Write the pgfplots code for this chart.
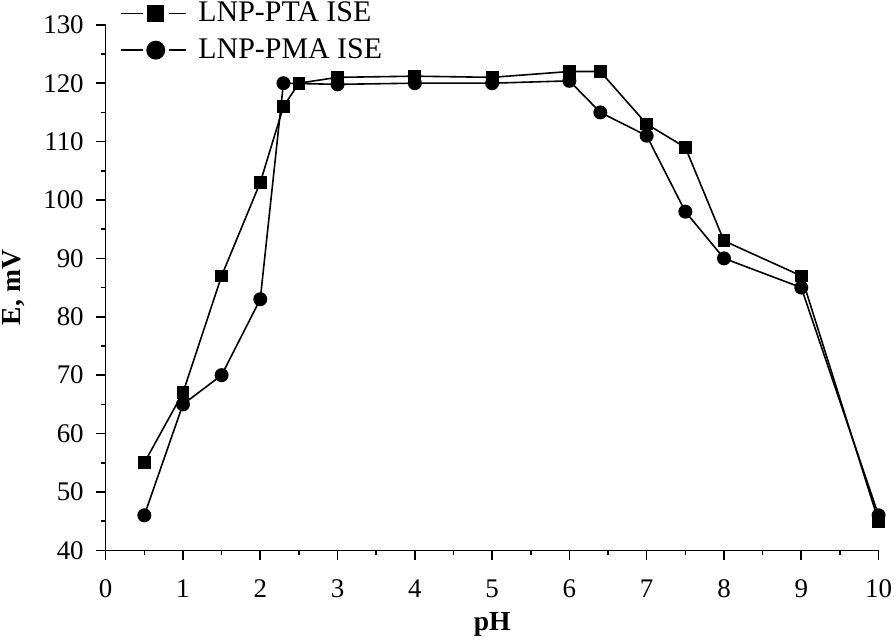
\documentclass[border=0pt]{standalone}
\usepackage{pgfplots}
\pgfplotsset{compat=1.18}
\usepackage{fontspec}
\setmainfont{Liberation Serif}
\begin{document}
\begin{tikzpicture}[x=1pt,y=1pt]
\begin{axis}[
  scale only axis,
  width=387.5pt, height=263.5pt,
  xmin=0, xmax=10, ymin=40, ymax=130,
  axis lines=left, axis line style={-, line width=0.8pt},
  xtick={0,1,...,10}, ytick={40,50,...,130},
  minor x tick num=1, minor y tick num=1,
  tick align=outside,
  major tick length=5pt, minor tick length=2.5pt,
  tick style={line width=0.8pt, black},
  /pgf/number format/assume math mode=true,
  ticklabel style={font=\fontsize{13.5}{14}\selectfont},
  yticklabel style={xshift=-2.5pt},
  xticklabel style={inner sep=1pt, yshift=-8.5pt},
  xlabel={\textbf{pH}}, ylabel={\textbf{E, mV}},
  label style={font=\fontsize{13.8}{14}\selectfont},
  xlabel style={yshift=-3pt},
  ylabel style={inner sep=1pt, yshift=5pt},
  clip=false,
  legend style={draw=none, fill=none, at={(0,1)}, anchor=west, xshift=7pt, yshift=-3.5pt,
    font=\fontsize{15}{16}\selectfont, row sep=5pt, inner sep=0pt,
    nodes={inner sep=1pt},
    /tikz/every odd column/.append style={column sep=5pt}},
  legend cell align=left,
  legend image code/.code={%
    \draw[#1] (0pt,0pt) -- (11pt,0pt);
    \draw[#1] (24pt,0pt) -- (32.5pt,0pt);
    \draw[#1, mark options={solid, scale=1.4}] plot coordinates {(17.5pt,0pt)};},
]
\addplot[black, line width=0.8pt, mark=square*, mark size=2.8pt, mark options={solid}] coordinates {
(0.5,55)(1,67)(1.5,87)(2,103)(2.3,116)(2.5,120)(3,121)(4,121.2)(5,121)(6,122)(6.4,122)(7,113)(7.5,109)(8,93)(9,87)(10,45)};
\addlegendentry{LNP-PTA ISE}
\addplot[black, line width=0.8pt, mark=*, mark size=3.1pt, mark options={solid}] coordinates {
(0.5,46)(1,65)(1.5,70)(2,83)(2.3,120)(3,119.8)(4,120)(5,120)(6,120.4)(6.4,115)(7,111)(7.5,98)(8,90)(9,85)(10,46)};
\addlegendentry{LNP-PMA ISE}
\end{axis}
\end{tikzpicture}
\end{document}
